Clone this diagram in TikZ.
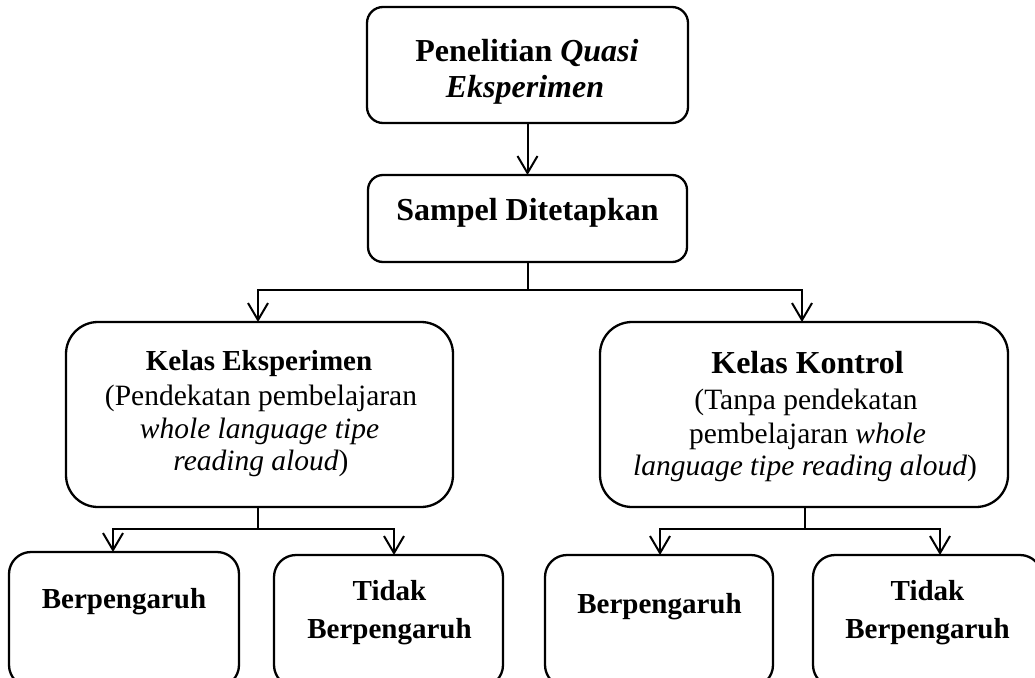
\documentclass[tikz,border=0pt]{standalone}
\usepackage{fontspec}
\setmainfont{Liberation Serif}
\usetikzlibrary{arrows.meta,calc}
\begin{document}
\begin{tikzpicture}[x=1pt,y=-1pt,
  box/.style={draw, line width=2.3pt, rounded corners=#1, inner sep=0pt, outer sep=0pt},
  conn/.style={line width=2pt},
  arr/.style={line width=2pt, -{Straight Barb[length=17pt,width=20pt,line width=2pt]}},
  hbig/.style={font=\fontsize{32}{35}\selectfont\bfseries, anchor=base, inner sep=0pt},
  hmid/.style={font=\fontsize{29}{33}\selectfont\bfseries, anchor=base, inner sep=0pt},
  tx/.style={font=\fontsize{29.5}{33}\selectfont, anchor=base, inner sep=0pt}]
\useasboundingbox (0,0) rectangle (1035,677);
\clip (0,0) rectangle (1035,677);
% boxes
\node[box=16pt, minimum width=321pt, minimum height=116pt] (top) at (527.5,65) {};
\node[box=15pt, minimum width=319pt, minimum height=87pt] (sam) at (527.5,218.5) {};
\node[box=32pt, minimum width=387pt, minimum height=185pt] (ke) at (259.5,414.5) {};
\node[box=32pt, minimum width=408pt, minimum height=185pt] (kk) at (804,414.5) {};
\node[box=22pt, minimum width=230pt, minimum height=135pt] (b1) at (124,619.5) {};
\node[box=22pt, minimum width=229pt, minimum height=132pt] (t1) at (388.5,621) {};
\node[box=22pt, minimum width=228pt, minimum height=132pt] (b2) at (659,621) {};
\node[box=22pt, minimum width=229pt, minimum height=132pt] (t2) at (927.5,621) {};
% texts
\node[hbig] (toptx1) at (527,62) {Penelitian \textit{Quasi}};
\node[hbig] (toptx2) at (525,97) {\textit{Eksperimen}};
\node[hbig] (samtx) at (527.5,220) {Sampel Ditetapkan};
\node[hmid] (ketx1) at (259,370) {Kelas Eksperimen};
\node[tx] (ketx2) at (261,405) {(Pendekatan pembelajaran};
\node[tx] (ketx3) at (259.5,438) {\textit{whole language tipe}};
\node[tx] (ketx4) at (261,470) {\textit{reading aloud})};
\node[hbig] (kktx1) at (807.5,373) {Kelas Kontrol};
\node[tx] (kktx2) at (806,409) {(Tanpa pendekatan};
\node[tx] (kktx3) at (807.5,443) {pembelajaran \textit{whole}};
\node[tx] (kktx4) at (805,475) {\textit{language tipe reading aloud})};
\node[hmid] (b1tx) at (124,608) {Berpengaruh};
\node[hmid] (t1tx1) at (389.5,600) {Tidak};
\node[hmid] (t1tx2) at (389.5,638) {Berpengaruh};
\node[hmid] (b2tx) at (659.5,613) {Berpengaruh};
\node[hmid] (t2tx1) at (927.5,600) {Tidak};
\node[hmid] (t2tx2) at (927.5,638) {Berpengaruh};
% connectors
\draw[arr] (top.south) -- (sam.north);
\coordinate (j1) at ($(sam.south)+(0,28)$);
\draw[conn] (sam.south) -- (j1);
\draw[arr] (j1) -| ($(ke.north)+(-1.5,0)$);
\draw[arr] (j1) -| ($(kk.north)+(-2,0)$);
\coordinate (j2) at ($(ke.south)+(-1.5,22)$);
\draw[conn] ($(ke.south)+(-1.5,0)$) -- (j2);
\draw[arr] (j2) -| ($(b1.north)+(-11,0)$);
\draw[arr] (j2) -| ($(t1.north)+(5.5,0)$);
\coordinate (j3) at ($(kk.south)+(1,22)$);
\draw[conn] ($(kk.south)+(1,0)$) -- (j3);
\draw[arr] (j3) -| ($(b2.north)+(1,0)$);
\draw[arr] (j3) -| ($(t2.north)+(12.5,0)$);
\end{tikzpicture}
\end{document}
